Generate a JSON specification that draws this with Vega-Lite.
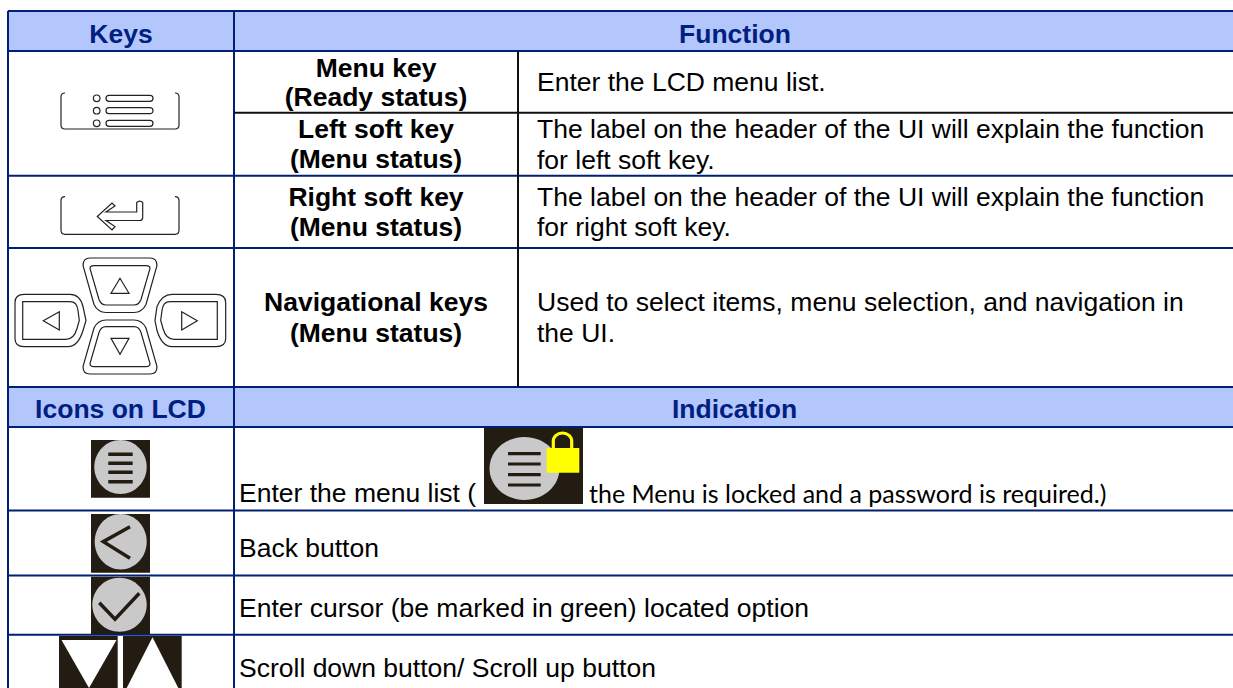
{"$schema":"https://vega.github.io/schema/vega-lite/v6.json","width":1233,"height":688,"padding":0,"autosize":"none","background":"white","config":{"view":{"stroke":null}},
"resolve":{"scale":{"shape":"independent"}},
"datasets":{
"bands":[{"x":8,"x2":1233,"y":11,"y2":51},{"x":8,"x2":1233,"y":387,"y2":427}],
"navyLines":[{"x":8,"x2":1233,"y":11,"y2":11},{"x":8,"x2":1233,"y":51,"y2":51},{"x":8,"x2":1233,"y":175.7,"y2":175.7},{"x":8,"x2":1233,"y":248,"y2":248},{"x":8,"x2":1233,"y":387,"y2":387},{"x":8,"x2":1233,"y":427,"y2":427},{"x":8,"x2":1233,"y":510.5,"y2":510.5},{"x":8,"x2":1233,"y":575.5,"y2":575.5},{"x":8,"x2":1233,"y":634.7,"y2":634.7},{"x":8,"x2":8,"y":11,"y2":688},{"x":234,"x2":234,"y":11,"y2":688}],
"blackLines":[{"x":234,"x2":1233,"y":112.7,"y2":112.7},{"x":518,"x2":518,"y":51,"y2":387}],
"heads":[{"t":"Keys","x":121,"y":42.7},{"t":"Function","x":735,"y":42.7},{"t":"Icons on LCD","x":120.5,"y":418},{"t":"Indication","x":734.5,"y":418}],
"keys":[{"t":"Menu key","x":376,"y":76.7},{"t":"(Ready status)","x":376,"y":105.5},{"t":"Left soft key","x":376,"y":138.3},{"t":"(Menu status)","x":376,"y":168.3},{"t":"Right soft key","x":376,"y":206},{"t":"(Menu status)","x":376,"y":236},{"t":"Navigational keys","x":376,"y":310.7},{"t":"(Menu status)","x":376,"y":341.7}],
"body":[{"t":"Enter the LCD menu list.","x":537,"y":90.7},{"t":"The label on the header of the UI will explain the function","x":537,"y":138.3},{"t":"for left soft key.","x":537,"y":168.7},{"t":"The label on the header of the UI will explain the function","x":537,"y":206},{"t":"for right soft key.","x":537,"y":236},{"t":"Used to select items, menu selection, and navigation in","x":537,"y":310.7},{"t":"the UI.","x":537,"y":341.7},{"t":"Enter the menu list (","x":239,"y":501.7},{"t":"Back button","x":239,"y":556.7},{"t":"Enter cursor (be marked in green) located option","x":239,"y":617.3},{"t":"Scroll down button/ Scroll up button","x":239,"y":677.3}],
"note":[{"t":"the Menu is locked and a password is required.)","x":589,"y":502.7}],
"darks":[{"x":91,"x2":150,"y":440,"y2":497.7},{"x":484,"x2":583,"y":428,"y2":504},{"x":91,"x2":150,"y":514,"y2":572.7},{"x":91,"x2":150,"y":576.7,"y2":634},{"x":59,"x2":117.7,"y":636,"y2":688},{"x":123,"x2":181.7,"y":636,"y2":688}],
"keyIcons":[{"icon":"menu","x":120,"y":111},{"icon":"enter","x":120,"y":215.5},{"icon":"pad","x":120,"y":320.5}],
"discs":[{"icon":"menu","x":120.5,"y":467},{"icon":"lock","x":524.5,"y":468.5},{"icon":"back","x":120.7,"y":541.7},{"icon":"check","x":119.5,"y":604.7}],
"glyphs":[{"icon":"menuBars","x":120.5,"y":467},{"icon":"lockBars","x":524.5,"y":468.7}],
"strokes":[{"icon":"back","x":120.5,"y":541.7},{"icon":"check","x":119.5,"y":604.7}],
"whites":[{"icon":"down","x":88.5,"y":662},{"icon":"up","x":152.5,"y":662}],
"lock":[{"icon":"body","x":562.5,"y":460}],
"shackle":[{"icon":"shackle","x":562.5,"y":460}]
},
"encoding":{"x":{"field":"x","type":"quantitative","scale":{"domain":[0,1233],"range":[0,1233],"nice":false,"zero":false},"axis":null},"y":{"field":"y","type":"quantitative","scale":{"domain":[0,688],"range":[0,688],"nice":false,"zero":false},"axis":null}},
"layer":[
{"data":{"name":"bands"},"mark":{"type":"rect","fill":"#B4C7FC"},"encoding":{"x2":{"field":"x2"},"y2":{"field":"y2"}}},
{"data":{"name":"darks"},"mark":{"type":"rect","fill":"#231C12"},"encoding":{"x2":{"field":"x2"},"y2":{"field":"y2"}}},
{"data":{"name":"navyLines"},"mark":{"type":"rule","stroke":"#001F75","strokeWidth":2},"encoding":{"x2":{"field":"x2"},"y2":{"field":"y2"}}},
{"data":{"name":"blackLines"},"mark":{"type":"rule","stroke":"#111111","strokeWidth":2},"encoding":{"x2":{"field":"x2"},"y2":{"field":"y2"}}},
{"data":{"name":"heads"},"mark":{"type":"text","font":"Liberation Sans","fontWeight":"bold","fontSize":26.5,"fill":"#002080","align":"center","baseline":"alphabetic"},"encoding":{"text":{"field":"t"}}},
{"data":{"name":"keys"},"mark":{"type":"text","font":"Liberation Sans","fontWeight":"bold","fontSize":26.5,"fill":"#000000","align":"center","baseline":"alphabetic"},"encoding":{"text":{"field":"t"}}},
{"data":{"name":"body"},"mark":{"type":"text","font":"Liberation Sans","fontSize":26.5,"fill":"#000000","align":"left","baseline":"alphabetic"},"encoding":{"text":{"field":"t"}}},
{"data":{"name":"note"},"mark":{"type":"text","font":"Lato","fontSize":25,"fill":"#000000","align":"left","baseline":"alphabetic"},"encoding":{"text":{"field":"t"}}},
{"data":{"name":"keyIcons"},"mark":{"type":"point","filled":false,"size":4,"stroke":"#222222","strokeWidth":1.2,"opacity":1},"encoding":{"shape":{"field":"icon","type":"nominal","legend":null,"scale":{"domain":["menu","enter","pad"],"range":[
"M-55,-18 Q-59,-18 -59,-14 L-59,14 Q-59,18 -55,18 L55,18 Q59,18 59,14 L59,-14 Q59,-18 55,-18 M-20,-12.7 A3.3,3.3 0 1 1 -26.6,-12.7 A3.3,3.3 0 1 1 -20,-12.7Z M-20,-0.3 A3.3,3.3 0 1 1 -26.6,-0.3 A3.3,3.3 0 1 1 -20,-0.3Z M-20,12.3 A3.3,3.3 0 1 1 -26.6,12.3 A3.3,3.3 0 1 1 -20,12.3Z M-11,-15.7 L30,-15.7 A3,3 0 0 1 30,-9.7 L-11,-9.7 A3,3 0 0 1 -11,-15.7Z M-11,-3.3 L30,-3.3 A3,3 0 0 1 30,2.7 L-11,2.7 A3,3 0 0 1 -11,-3.3Z M-11,9.3 L30,9.3 A3,3 0 0 1 30,15.3 L-11,15.3 A3,3 0 0 1 -11,9.3Z",
"M-55,-18.8 Q-59,-18.8 -59,-14.8 L-59,14.8 Q-59,18.8 -55,18.8 L55,18.8 Q59,18.8 59,14.8 L59,-14.8 Q59,-18.8 55,-18.8 M-22.7,1 L-8,-12.5 L-5,-9.5 L-14,-3.5 L16.7,-3.5 L16.7,-13 Q19.7,-16 22.7,-13 L22.7,2 Q22.7,5 19.7,5 L-14,5 L-5,11 L-8,14.5 Z",
"M-37,-55 Q-37,-62.5 -30,-62.5 L30,-62.5 Q37,-62.5 37,-55 L26,-16 Q22,-8 14,-8 L-14,-8 Q-22,-8 -26,-16 Z M-30,-52 Q-30,-54.8 -26,-54.8 L26,-54.8 Q30,-54.8 30,-52 L21,-21 Q19,-15.5 14,-15.5 L-14,-15.5 Q-19,-15.5 -21,-21Z M0,-42.2 L-9,-27.2 L9,-27.2Z M-14,-0.5 L14,-0.5 Q22,-0.5 26,7.5 L37,46 Q37,53.5 30,53.5 L-30,53.5 Q-37,53.5 -37,46 L-26,7.5 Q-22,-0.5 -14,-0.5Z M-14,6.2 L14,6.2 Q19,6.2 21,12 L30,43 Q30,46.2 26,46.2 L-26,46.2 Q-30,46.2 -30,43 L-21,12 Q-19,6.2 -14,6.2Z M-9,17.8 L9,17.8 L0,33.8Z M-96,-26.2 L-50,-26.2 Q-40,-26.2 -37,-14 L-34,0 L-37,10 Q-42,26.2 -52,26.2 L-96,26.2 Q-105,26.2 -105,18 L-105,-18 Q-105,-26.2 -96,-26.2Z M-97.3,-18.8 L-50,-18.8 Q-43,-18.8 -42,-10 L-40.7,0 L-43,8 Q-46,18.8 -54,18.8 L-97.3,18.8Z M-76.7,0.2 L-60.7,-8.8 L-60.7,9.5Z M52,-26.2 L96,-26.2 Q105.7,-26.2 105.7,-18 L105.7,18 Q105.7,26.2 96,26.2 L52,26.2 Q42,26.2 37,10 L35,0 L37,-14 Q42,-26.2 52,-26.2Z M50,-18.8 L97.3,-18.8 L97.3,18.8 L54,18.8 Q46,18.8 43,8 L40.7,0 L42,-10 Q43,-18.8 50,-18.8Z M77.3,0.2 L61.7,-8.8 L61.7,9.5Z"
]}}}},
{"data":{"name":"discs"},"mark":{"type":"point","filled":true,"size":4,"fill":"#C9C9C9","opacity":1},"encoding":{"shape":{"field":"icon","type":"nominal","legend":null,"scale":{"domain":["menu","lock","back","check"],"range":[
"M-26.2,0 A26.2,27 0 1 1 26.2,0 A26.2,27 0 1 1 -26.2,0Z",
"M-35,0 A35,31.5 0 1 1 35,0 A35,31.5 0 1 1 -35,0Z",
"M-26,0 A26,27.7 0 1 1 26,0 A26,27.7 0 1 1 -26,0Z",
"M-27.2,0 A27.2,27 0 1 1 27.2,0 A27.2,27 0 1 1 -27.2,0Z"]}}}},
{"data":{"name":"glyphs"},"mark":{"type":"point","filled":true,"size":4,"fill":"#231C12","opacity":1},"encoding":{"shape":{"field":"icon","type":"nominal","legend":null,"scale":{"domain":["menuBars","lockBars"],"range":[
"M-12.2,-14.4 L12.2,-14.4 L12.2,-11 L-12.2,-11Z M-12.2,-5.4 L12.2,-5.4 L12.2,-2 L-12.2,-2Z M-12.2,3.6 L12.2,3.6 L12.2,7 L-12.2,7Z M-12.2,13 L12.2,13 L12.2,16.4 L-12.2,16.4Z",
"M-16.5,-16.6 L16.2,-16.6 L16.2,-13.4 L-16.5,-13.4Z M-16.5,-6.3 L16.2,-6.3 L16.2,-3.1 L-16.5,-3.1Z M-16.5,4.4 L16.2,4.4 L16.2,7.6 L-16.5,7.6Z M-16.5,14.7 L16.2,14.7 L16.2,17.9 L-16.5,17.9Z"]}}}},
{"data":{"name":"strokes"},"mark":{"type":"point","filled":false,"size":4,"stroke":"#231C12","strokeWidth":3.5,"opacity":1},"encoding":{"shape":{"field":"icon","type":"nominal","legend":null,"scale":{"domain":["back","check"],"range":["M9.5,-15 L-17.2,0 L9.5,16.6","M-20.2,-2 L-4.5,14.6 L19.8,-11.4"]}}}},
{"data":{"name":"whites"},"mark":{"type":"point","filled":true,"size":4,"fill":"#FFFFFF","opacity":1},"encoding":{"shape":{"field":"icon","type":"nominal","legend":null,"scale":{"domain":["down","up"],"range":["M-27,-22 L28,-22 L0.5,26Z","M-25.8,26 L0,-24.7 L25.8,26Z"]}}}},
{"data":{"name":"lock"},"mark":{"type":"point","filled":true,"size":4,"fill":"#FFFF00","opacity":1,"shape":"M-15.8,-12 L16.8,-12 L16.8,12.7 L-15.8,12.7Z"}},
{"data":{"name":"shackle"},"mark":{"type":"point","filled":false,"size":4,"stroke":"#FFFF00","strokeWidth":3.2,"opacity":1,"shape":"M-9.2,-12 L-9.2,-19 A9.2,8 0 0 1 9.2,-19 L9.2,-12"}}
]}
